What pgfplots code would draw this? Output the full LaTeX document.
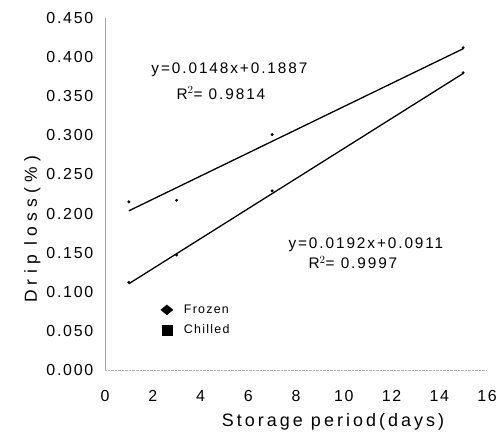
\documentclass[border=0pt]{standalone}
\usepackage{pgfplots}
\pgfplotsset{compat=1.18}
\usepackage{fontspec}
\setmainfont{Liberation Sans}
\newfontfamily\tickfont[LetterSpace=11]{Liberation Sans}
\newfontfamily\notefont[LetterSpace=12.5]{Liberation Sans}
\newfontfamily\xlabfont[LetterSpace=17]{Liberation Sans}
\newfontfamily\ylabfont[LetterSpace=30]{Liberation Sans}
\newfontfamily\legfont[LetterSpace=10]{Liberation Sans}

\begin{document}
\begin{tikzpicture}
\path[use as bounding box] (0,0) rectangle (501bp,437bp);
\begin{axis}[
  at={(105bp,67bp)}, anchor=south west,
  scale only axis,
  width=382bp, height=352bp,
  xmin=0, xmax=16, ymin=0, ymax=0.45,
  xtick={0,2,...,16},
  ytick={0,0.05,...,0.45},
  axis lines=left,
  axis line style={-},
  x axis line style={gray!60, densely dotted},
  y axis line style={gray!70, thin},
  tick style={draw=none},
  every tick label/.append style={font=\tickfont\fontsize{16}{18}\selectfont},
  xticklabel={\pgfmathprintnumber[assume math mode=true]{\tick}},
  yticklabel={\pgfmathprintnumber[fixed,fixed zerofill,precision=3,assume math mode=true]{\tick}},
  yticklabel style={xshift=-6bp},
  xticklabel style={yshift=-15bp},
  xlabel={Storage period(days)},
  ylabel={Drip loss(\%)},
  xlabel style={font=\xlabfont\fontsize{18}{20}\selectfont,
    at={(axis description cs:0.597,-0.146)}, anchor=center},
  ylabel style={font=\ylabfont\fontsize{17.5}{19}\selectfont,
    at={(axis description cs:-0.19,0.40)}, anchor=center},
  clip=false,
  legend style={at={(rel axis cs:0.138,0.197)}, anchor=north west, draw=none, fill=none,
    font=\legfont\fontsize{12.5}{14}\selectfont, row sep=6bp,
    /tikz/every odd column/.append style={column sep=9bp}},
  legend cell align=left,
]
\addlegendimage{only marks, mark=diamond*, mark size=5bp, mark options={xscale=1.6}, black}
\addlegendentry{Frozen}
\addlegendimage{only marks, mark=square*, mark size=5bp, black}
\addlegendentry{Chilled}

% Frozen
\addplot[only marks, mark=*, mark size=1.3bp, black, forget plot] coordinates {
  (1,0.215) (3,0.217) (7,0.301) (15,0.412)
};
\addplot[black, line width=1.3pt, forget plot] coordinates {(1,0.2035) (15,0.4107)};
% Chilled
\addplot[only marks, mark=*, mark size=1.3bp, black, forget plot] coordinates {
  (1,0.112) (3,0.147) (7,0.229) (15,0.380)
};
\addplot[black, line width=1.3pt, forget plot] coordinates {(1,0.1103) (15,0.3791)};

\node[anchor=west, font=\notefont\fontsize{15.4}{17}\selectfont] at (axis cs:1.8,0.3835) {y=0.0148x+0.1887};
\node[anchor=west, font=\notefont\fontsize{15.4}{17}\selectfont] at (axis cs:2.85,0.354) {R$^{2}$= 0.9814};
\node[anchor=west, font=\notefont\fontsize{15.4}{17}\selectfont] at (axis cs:7.54,0.160) {y=0.0192x+0.0911};
\node[anchor=west, font=\notefont\fontsize{15.4}{17}\selectfont] at (axis cs:8.38,0.137) {R$^{2}$= 0.9997};
\end{axis}
\end{tikzpicture}
\end{document}
